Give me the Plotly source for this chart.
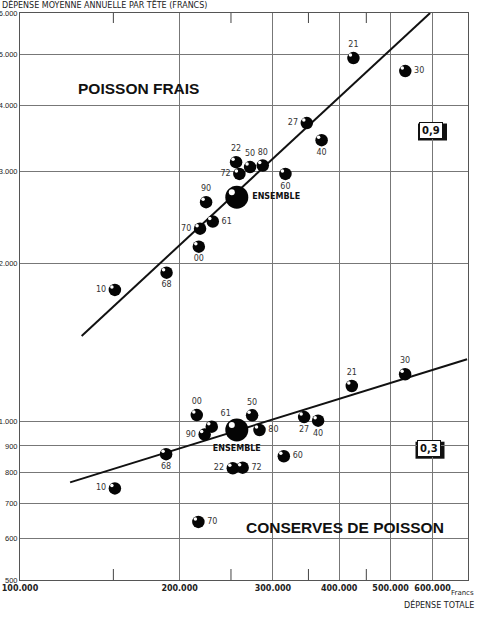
import math
import plotly.graph_objects as go

# ---------------- data ----------------
frais_codes = ["21", "30", "27", "40", "22", "50", "80", "72", "60", "90", "61", "70", "00", "68", "10"]
frais_x = [425500, 533000, 347500, 370600, 255600, 271600, 287000, 259300, 316700, 224400, 231000, 218600, 217400, 189000, 151000]
frais_y = [4925, 4652, 3704, 3437, 3121, 3054, 3075, 2964, 2964, 2619, 2406, 2332, 2155, 1923, 1783]
frais_pos = ["top center", "middle right", "middle left", "bottom center", "top center", "top center",
             "top center", "middle left", "bottom center", "top center", "middle right", "middle left",
             "bottom center", "bottom center", "middle left"]

cons_codes = ["21", "30", "27", "40", "00", "61", "90", "50", "80", "68", "60", "22", "72", "10", "70"]
cons_x = [422500, 532600, 343500, 365000, 215500, 230000, 223000, 274000, 283000, 188600, 314500, 252000, 263000, 151000, 217000]
cons_y = [1170, 1232, 1021, 1005, 1030, 979, 946, 1029, 965, 868, 860, 816, 818, 747, 645]
cons_pos = ["top center", "top center", "bottom center", "bottom center", "top center", "top right",
            "middle left", "top center", "middle right", "bottom center", "middle right", "middle left",
            "middle right", "middle left", "middle right"]

ensemble_x = [256400, 256400]
ensemble_y = [2677, 965]
ensemble_pos = ["middle right", "bottom center"]

frais_line_x = [130700, 593700]
frais_line_y = [1457, 6000]
cons_line_x = [124300, 697000]
cons_line_y = [767, 1316]

x_ticks = [100000, 200000, 300000, 400000, 500000, 600000]
x_ticktext = ["100.000", "200.000", "300.000", "400.000", "500.000", "600.000"]
x_minor = [150000, 250000, 350000, 450000]
y_ticks = [500, 600, 700, 800, 900, 1000, 2000, 3000, 4000, 5000, 6000]
y_ticktext = ["500", "600", "700", "800", "900", "1.000", "2.000", "3.000", "4.000", "5.000", "6.000"]

# ---------------- figure ----------------
W, H = 477, 621
ML, MR, MT, MB = 20, 9, 13, 41
PW, PH = W - ML - MR, H - MT - MB
X_RANGE = [5, 5.845]
Y_RANGE = [2.69897, 3.77815]
DEC_X = PW / (X_RANGE[1] - X_RANGE[0])
DEC_Y = PH / (Y_RANGE[1] - Y_RANGE[0])
hx = 10 ** (-3 / DEC_X)
hy = 10 ** (3 / DEC_Y)

fig = go.Figure()

for lx, ly in [(frais_line_x, frais_line_y), (cons_line_x, cons_line_y)]:
    fig.add_trace(go.Scatter(x=lx, y=ly, mode="lines", line=dict(color="#111", width=2),
                             hoverinfo="skip", showlegend=False))

label_font = dict(family="DejaVu Sans", size=8, color="#333")
for xs, ys, codes, pos in [(frais_x, frais_y, frais_codes, frais_pos), (cons_x, cons_y, cons_codes, cons_pos)]:
    fig.add_trace(go.Scatter(x=xs, y=ys, mode="markers+text", text=codes, textposition=pos,
                             textfont=label_font,
                             marker=dict(size=12.5, color="#050505", line=dict(width=0)),
                             showlegend=False))
    fig.add_trace(go.Scatter(x=[v * hx for v in xs], y=[v * hy for v in ys], mode="markers",
                             marker=dict(size=3.5, color="white", line=dict(width=0)),
                             hoverinfo="skip", showlegend=False))

fig.add_trace(go.Scatter(x=ensemble_x, y=ensemble_y, mode="markers+text", text=["ENSEMBLE", "ENSEMBLE"],
                         textposition=ensemble_pos,
                         textfont=dict(family="DejaVu Sans", size=8, color="#111", weight="bold"),
                         marker=dict(size=23, color="#050505", line=dict(width=0)),
                         showlegend=False))
hx2 = 10 ** (-5 / DEC_X)
hy2 = 10 ** (5 / DEC_Y)
fig.add_trace(go.Scatter(x=[v * hx2 for v in ensemble_x], y=[v * hy2 for v in ensemble_y], mode="markers",
                         marker=dict(size=6, color="white", line=dict(width=0)),
                         hoverinfo="skip", showlegend=False))


def px_x(p):
    return (p - ML) / PW


def px_y(p):
    return (H - MB - p) / PH


annotations = [
    dict(text="POISSON FRAIS", x=px_x(76), y=px_y(88), xanchor="left", yanchor="middle",
         font=dict(family="Liberation Sans", size=15.5, color="#111", weight="bold")),
    dict(text="CONSERVES DE POISSON", x=px_x(244), y=px_y(527), xanchor="left", yanchor="middle",
         font=dict(family="Liberation Sans", size=15.5, color="#111", weight="bold")),
    dict(text="DÉPENSE MOYENNE ANNUELLE PAR TÊTE (FRANCS)", x=px_x(0), y=px_y(4), xanchor="left",
         yanchor="middle", font=dict(family="DejaVu Sans", size=8, color="#222")),
    dict(text="Francs", x=px_x(476), y=px_y(593), xanchor="right", yanchor="middle",
         font=dict(family="DejaVu Sans", size=7, color="#222")),
    dict(text="DÉPENSE TOTALE", x=px_x(476), y=px_y(604), xanchor="right", yanchor="middle",
         font=dict(family="DejaVu Sans", size=8, color="#222")),
    dict(text="<b>0,9</b>", x=px_x(431), y=px_y(130.5), xanchor="center", yanchor="middle",
         font=dict(family="DejaVu Sans", size=10, color="#111"), bgcolor="white",
         bordercolor="#111", borderwidth=1, borderpad=2),
    dict(text="<b>0,3</b>", x=px_x(428.5), y=px_y(448.7), xanchor="center", yanchor="middle",
         font=dict(family="DejaVu Sans", size=10, color="#111"), bgcolor="white",
         bordercolor="#111", borderwidth=1, borderpad=2),
]
for a in annotations:
    a.update(xref="paper", yref="paper", showarrow=False)

shapes = []
for cx, cy in [(431, 130.5), (428.5, 448.7)]:
    shapes.append(dict(type="rect", xref="paper", yref="paper", layer="below",
                       x0=px_x(cx - 13), x1=px_x(cx + 16), y0=px_y(cy + 10), y1=px_y(cy - 7),
                       fillcolor="#111", line=dict(width=0)))
# short intermediate ticks along the bottom and top edges
for v in x_minor:
    xp = (math.log10(v) - X_RANGE[0]) / (X_RANGE[1] - X_RANGE[0])
    shapes.append(dict(type="line", xref="paper", yref="paper", x0=xp, x1=xp, y0=0, y1=11 / PH,
                       line=dict(color="#444", width=1)))
    shapes.append(dict(type="line", xref="paper", yref="paper", x0=xp, x1=xp, y0=1, y1=1 - 10 / PH,
                       line=dict(color="#444", width=1)))

fig.update_layout(
    width=W, height=H,
    margin=dict(l=ML, r=MR, t=MT, b=MB, autoexpand=False),
    paper_bgcolor="white", plot_bgcolor="white",
    showlegend=False,
    annotations=annotations,
    shapes=shapes,
    font=dict(family="DejaVu Sans"),
)
fig.update_xaxes(type="log", range=X_RANGE, tickvals=x_ticks, ticktext=x_ticktext,
                 showgrid=True, gridcolor="#777", gridwidth=1, zeroline=False,
                 showline=True, linecolor="#555", linewidth=1, mirror=True,
                 ticks="", tickfont=dict(family="DejaVu Sans", size=8, color="#222", weight="bold"),
                 automargin=False)
fig.update_yaxes(type="log", range=Y_RANGE, tickvals=y_ticks, ticktext=y_ticktext,
                 showgrid=True, gridcolor="#777", gridwidth=1, zeroline=False,
                 showline=True, linecolor="#555", linewidth=1, mirror=True,
                 ticks="", ticklabelstandoff=0,
                 tickfont=dict(family="Liberation Sans", size=7.5, color="#222"),
                 automargin=False)

fig.write_html("out.html")
